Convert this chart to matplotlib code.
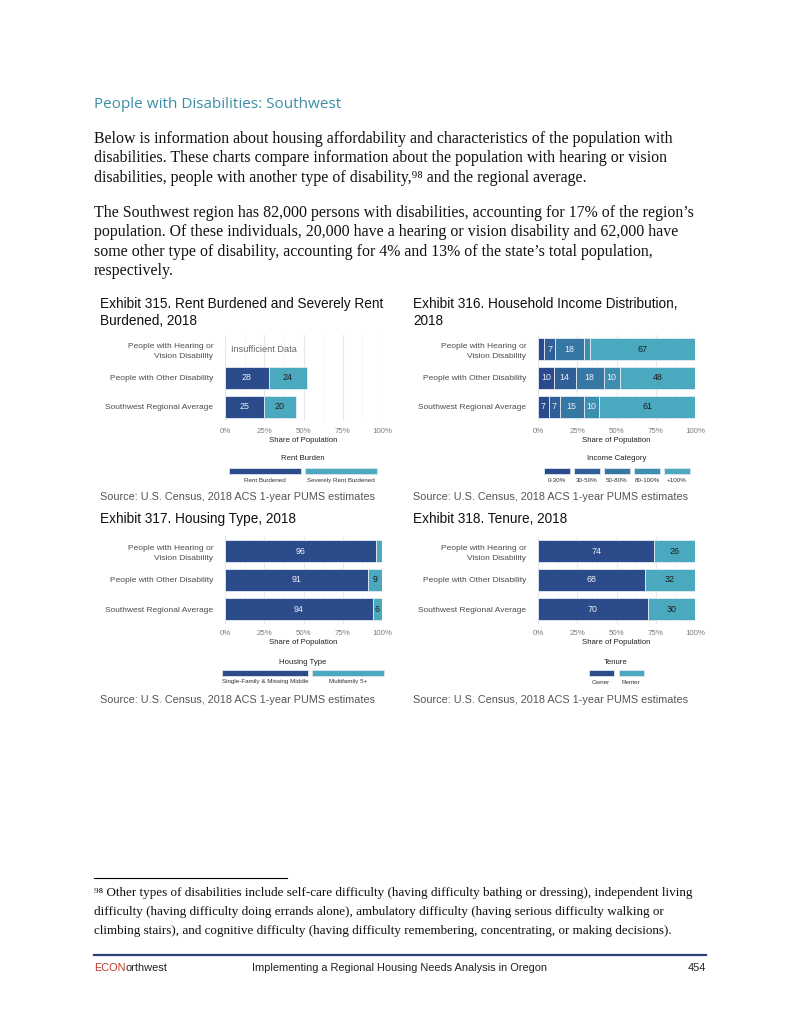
import matplotlib
matplotlib.use("Agg")
import matplotlib.pyplot as plt
import numpy as np
from matplotlib.patches import Rectangle

W, H = 800, 1035

groups = ["People with Hearing or\nVision Disability",
          "People with Other Disability",
          "Southwest Regional Average"]

# Exhibit 315 - rent burden (hearing/vision row: insufficient data)
rent_labels = ["Rent Burdened", "Severely Rent Burdened"]
rent_burdened = [np.nan, 28, 25]
rent_severe = [np.nan, 24, 20]

# Exhibit 316 - household income
income_labels = ["0-30%", "30-50%", "50-80%", "80-100%", "+100%"]
inc_0_30 = [4, 10, 7]
inc_30_50 = [7, 14, 7]
inc_50_80 = [18, 18, 15]
inc_80_100 = [4, 10, 10]
inc_100_plus = [67, 48, 61]

# Exhibit 317 - housing type
housing_labels = ["Single-Family & Missing Middle", "Multifamily 5+"]
housing_sf = [96, 91, 94]
housing_mf = [4, 9, 6]

# Exhibit 318 - tenure
tenure_labels = ["Owner", "Renter"]
tenure_owner = [74, 68, 70]
tenure_renter = [26, 32, 30]

xticks = [0, 25, 50, 75, 100]

NAVY = "#2b4b8a"
TEAL = "#4aa9bf"
income_colors = ["#2a4a8b", "#305e96", "#3777a3", "#3d8fb1", "#4aa9bf"]

SANS = ["Liberation Sans", "DejaVu Sans"]
NARROW = ["Liberation Sans Narrow", "Liberation Sans", "DejaVu Sans"]
SERIF = ["Liberation Serif", "DejaVu Serif"]

fig = plt.figure(figsize=(W / 100, H / 100), dpi=100)
fig.patch.set_facecolor("white")
renderer = fig.canvas.get_renderer()


def px(x, y):
    return x / W, 1 - y / H


def put(x, y, s, **kw):
    kw.setdefault("va", "center")
    return fig.text(*px(x, y), s, **kw)


def fit_size(s, family, width, guess=10):
    # font size that gives text s the given pixel width
    t = fig.text(0, 0, s, family=family, fontsize=guess)
    w = t.get_window_extent(renderer).width
    t.remove()
    return guess * width / w


lab_fs = fit_size("People with Other Disability", SANS, 103)
tick_fs = fit_size("100%", SANS, 20)
xlab_fs = fit_size("Share of Population", SANS, 68)
leg_fs = fit_size("Severely Rent Burdened", SANS, 68)
val_fs = fit_size("28", SANS, 10)


def bar_chart(x0, ytop, series, colors, light, min_show=5):
    x1 = x0 + 157
    ax = fig.add_axes([x0 / W, 1 - (ytop + 87) / H, (x1 - x0) / W, 87 / H])
    y = np.arange(len(groups))
    left = np.zeros(len(groups))
    for vals, c, lt in zip(series, colors, light):
        vals = np.asarray(vals, float)
        ax.barh(y, vals, left=left, height=0.76, color=c,
                edgecolor="#e4ebf2", linewidth=0.6, zorder=3)
        for yi, v, l in zip(y, vals, left):
            if np.isfinite(v) and v >= min_show:
                ax.text(l + v / 2, yi, f"{v:.0f}", ha="center", va="center",
                        fontsize=val_fs, family=SANS, zorder=4,
                        color="#eef1f6" if lt else "#1c1c1c")
        left = left + np.nan_to_num(vals)
    ax.set_xlim(0, 100)
    ax.set_ylim(2.5, -0.5)
    ax.set_xticks(xticks)
    ax.set_xticklabels([f"{t}%" for t in xticks])
    ax.set_xticks([12.5, 37.5, 62.5, 87.5], minor=True)
    ax.set_yticks(y)
    ax.set_yticklabels(groups, family=SANS, fontsize=lab_fs, color="#4d4d4d")
    for lbl in ax.get_yticklabels():
        lbl.set_linespacing(1.7)
    ax.tick_params(axis="x", length=0, pad=4.5, labelsize=tick_fs,
                   labelcolor="#7f7f7f", which="both")
    ax.tick_params(axis="y", length=0, pad=8.5)
    for lbl in ax.get_xticklabels():
        lbl.set_family(SANS)
    ax.grid(axis="x", which="major", color="#e8e8e8", lw=0.8, zorder=0)
    ax.grid(axis="x", which="minor", color="#f3f3f3", lw=0.5, zorder=0)
    ax.grid(axis="y", visible=False)
    for s in ax.spines.values():
        s.set_visible(False)
    ax.set_xlabel("Share of Population", family=SANS, fontsize=xlab_fs,
                  color="#222222", labelpad=1.5)
    return ax


def legend(cx, title, title_y, key_y, lab_y, widths, gap, labels, colors):
    put(cx, title_y, title, ha="center", family=SANS, fontsize=xlab_fs,
        color="#222222")
    total = sum(widths) + (len(widths) - 1) * gap
    kx = cx - total / 2
    for kw, lab, c in zip(widths, labels, colors):
        fig.add_artist(Rectangle(px(kx, key_y + 6), kw / W, 6 / H,
                                 transform=fig.transFigure, facecolor=c,
                                 edgecolor="#dde6ee", linewidth=0.6))
        put(kx + kw / 2, lab_y, lab, ha="center", family=SANS,
            fontsize=leg_fs, color="#333333")
        kx += kw + gap


# ---------- page text ----------
head_fs = fit_size("People with Disabilities: Southwest", ["Open Sans"], 247)
put(94, 104, "People with Disabilities: Southwest", family=["Open Sans"],
    fontsize=head_fs, color="#3b8ea5")

para1 = ["Below is information about housing affordability and characteristics of the population with",
         "disabilities. These charts compare information about the population with hearing or vision",
         "disabilities, people with another type of disability,\u2079\u2078 and the regional average."]
para2 = ["The Southwest region has 82,000 persons with disabilities, accounting for 17% of the region\u2019s",
         "population. Of these individuals, 20,000 have a hearing or vision disability and 62,000 have",
         "some other type of disability, accounting for 4% and 13% of the state\u2019s total population,",
         "respectively."]
body_fs = fit_size(para1[0], SERIF, 578)
for i, line in enumerate(para1):
    put(94, 139 + 19.3 * i, line, family=SERIF, fontsize=body_fs, color="#111111")
for i, line in enumerate(para2):
    put(94, 213 + 19.3 * i, line, family=SERIF, fontsize=body_fs, color="#111111")

title_fs = fit_size("Exhibit 315. Rent Burdened and Severely Rent", NARROW, 283)
src_fs = fit_size("Source: U.S. Census, 2018 ACS 1-year PUMS estimates", NARROW, 276)
put(100, 304, "Exhibit 315. Rent Burdened and Severely Rent", family=NARROW, fontsize=title_fs, color="#111111")
put(100, 321, "Burdened, 2018", family=NARROW, fontsize=title_fs, color="#111111")
put(413, 304, "Exhibit 316. Household Income Distribution,", family=NARROW, fontsize=title_fs, color="#111111")
put(413, 321, "2018", family=NARROW, fontsize=title_fs, color="#111111")
put(100, 519, "Exhibit 317. Housing Type, 2018", family=NARROW, fontsize=title_fs, color="#111111")
put(413, 519, "Exhibit 318. Tenure, 2018", family=NARROW, fontsize=title_fs, color="#111111")
for sx, sy in [(100, 497), (413, 497), (100, 700), (413, 700)]:
    put(sx, sy, "Source: U.S. Census, 2018 ACS 1-year PUMS estimates",
        family=NARROW, fontsize=src_fs, color="#555555")

# ---------- charts ----------
ax1 = bar_chart(225, 334.5, [rent_burdened, rent_severe], [NAVY, TEAL], [True, False])
ax1.text(4, 0, "Insufficient Data", ha="left", va="center", family=SANS,
         fontsize=lab_fs * 1.08, color="#666666")
legend(303, "Rent Burden", 459, 468, 481, [72, 72], 4, rent_labels, [NAVY, TEAL])

bar_chart(538, 334.5, [inc_0_30, inc_30_50, inc_50_80, inc_80_100, inc_100_plus],
          income_colors, [True, True, True, True, False])
legend(617, "Income Category", 459, 468, 481, [26] * 5, 4, income_labels, income_colors)

bar_chart(225, 536.5, [housing_sf, housing_mf], [NAVY, TEAL], [True, False])
legend(303, "Housing Type", 662, 670, 682, [86, 72], 4, housing_labels, [NAVY, TEAL])

bar_chart(538, 536.5, [tenure_owner, tenure_renter], [NAVY, TEAL], [True, False])
legend(616, "Tenure", 662, 670, 682, [25, 25], 5, tenure_labels, [NAVY, TEAL])

# ---------- footnote ----------
fig.add_artist(plt.Line2D([94 / W, 287 / W], [1 - 878 / H] * 2, color="black", lw=0.8))
foot = ["\u2079\u2078 Other types of disabilities include self-care difficulty (having difficulty bathing or dressing), independent living",
        "difficulty (having difficulty doing errands alone), ambulatory difficulty (having serious difficulty walking or",
        "climbing stairs), and cognitive difficulty (having difficulty remembering, concentrating, or making decisions)."]
foot_fs = fit_size(foot[0], SERIF, 596)
for i, line in enumerate(foot):
    put(94, 893 + 19 * i, line, family=SERIF, fontsize=foot_fs, color="#111111")

# ---------- footer ----------
fig.add_artist(plt.Line2D([94 / W, 706 / W], [1 - 955 / H] * 2, color="#2c3f78", lw=1.6))
foot_txt_fs = fit_size("Implementing a Regional Housing Needs Analysis in Oregon", NARROW, 295)
t = put(94, 968, "ECON", family=NARROW, fontsize=foot_txt_fs, color="#c0392b")
w = t.get_window_extent(renderer).width
put(94 + w, 968, "orthwest", family=NARROW, fontsize=foot_txt_fs, color="#222222")
put(252, 968, "Implementing a Regional Housing Needs Analysis in Oregon",
    family=NARROW, fontsize=foot_txt_fs, color="#222222")
put(706, 968, "454", ha="right", family=NARROW, fontsize=foot_txt_fs, color="#222222")

fig.savefig("out.png", dpi=100)
